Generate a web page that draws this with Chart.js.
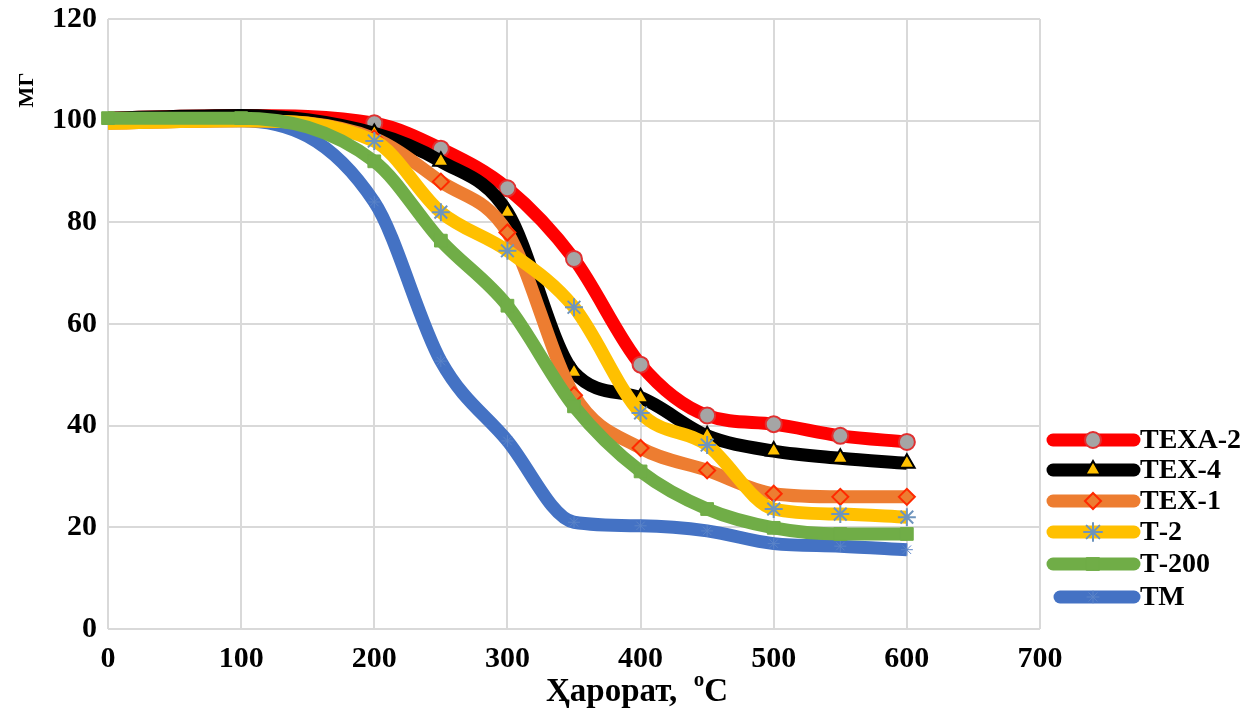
<!DOCTYPE html>
<html>
<head>
<meta charset="utf-8">
<script src="https://cdn.jsdelivr.net/npm/chart.js@4.4.0/dist/chart.umd.min.js"></script>
<style>
  body { margin: 0; background: #ffffff; }
  #wrap { width: 1245px; height: 711px; }
</style>
</head>
<body>
<div id="wrap"><canvas id="tga" width="1245" height="711"></canvas></div>
<script>
// температура, °С
const temps = [0, 100, 200, 250, 300, 350, 400, 450, 500, 550, 600];
const names = ['ТЕХА-2', 'ТЕХ-4', 'ТЕХ-1', 'Т-2', 'Т-200', 'ТМ'];

// масса, МГ
const texa2 = [100.5, 101, 99.5, 94.5, 86.7, 72.8, 52, 42, 40.3, 38, 36.8];
const tex4 = [100.5, 101, 97.5, 92, 82, 50.5, 45.5, 38, 35, 33.6, 32.6];
const tex1 = [99.5, 100, 96.5, 88, 78, 46, 35.6, 31.2, 26.6, 26, 26];
const t2 = [99.5, 100, 96, 82, 74.4, 63.3, 42.5, 36.2, 23.6, 22.6, 22];
const t200 = [100.5, 100.5, 92, 76.4, 63.6, 43.8, 31, 23.6, 19.9, 18.7, 18.7];
const tm = [100, 100, 84, 52.7, 37, 21, 20.3, 19.3, 16.8, 16.3, 15.6];

const xTicks = [0, 100, 200, 300, 400, 500, 600, 700];
const yTicks = [0, 20, 40, 60, 80, 100, 120];

const series = [texa2, tex4, tex1, t2, t200, tm];
const lineColors = ['#ff0000', '#000000', '#ed7d31', '#ffc000', '#70ad47', '#4472c4'];
const drawOrder = [6, 5, 4, 3, 1, 7];
const markers = [
    { style: 'circle', r: 8, fill: '#a5a5a5', border: '#e03030', bw: 2 },
    { style: 'triangle', r: 9, fill: '#ffc000', border: '#000000', bw: 2 },
    { style: 'rectRot', r: 8, fill: '#ed7d31', border: '#ff2a00', bw: 2 },
    { style: 'star', r: 9, fill: '#5b9bd5', border: '#6e94bd', bw: 2 },
    { style: 'rect', r: 9, fill: '#70ad47', border: '#70ad47', bw: 1 },
    { style: 'star', r: 6, fill: '#4472c4', border: '#5b84c8', bw: 1 }
];

const datasets = series.map((vals, i) => ({
    label: names[i],
    data: temps.map((t, k) => ({ x: t, y: vals[k] })),
    borderColor: lineColors[i],
    borderWidth: 13,
    cubicInterpolationMode: 'monotone',
    pointStyle: markers[i].style,
    pointRadius: temps.map(t => (t <= 100 && i !== 4) ? 0 : markers[i].r),
    legendRadius: markers[i].r,
    pointBackgroundColor: markers[i].fill,
    pointBorderColor: markers[i].border,
    pointBorderWidth: markers[i].bw,
    order: drawOrder[i],
    clip: false
}));

// подписи осей и легенда рисуются вручную
const extras = {
    id: 'extras',
    afterDraw(chart) {
        const ctx = chart.ctx;
        ctx.save();
        ctx.fillStyle = '#000';
        ctx.textBaseline = 'middle';

        // МГ
        ctx.save();
        ctx.translate(27, 90);
        ctx.rotate(-Math.PI / 2);
        ctx.textAlign = 'center';
        ctx.font = 'bold 22px "Liberation Serif"';
        ctx.fillText('МГ', 0, 0);
        ctx.restore();

        // Ҳарорат, °С
        ctx.textAlign = 'left';
        ctx.font = 'bold 33px "Liberation Serif"';
        const part1 = 'Ҳарорат,  ';
        let x = 546;
        ctx.fillText(part1, x, 692);
        x += ctx.measureText(part1).width;
        ctx.font = 'bold 21px "Liberation Serif"';
        ctx.fillText('o', x, 681);
        x += ctx.measureText('o').width;
        ctx.font = 'bold 33px "Liberation Serif"';
        ctx.fillText('С', x, 692);

        // легенда
        const ly = [440, 470, 501, 532, 564, 597];
        chart.data.datasets.forEach((ds, i) => {
            const y = ly[i];
            ctx.strokeStyle = ds.borderColor;
            ctx.lineWidth = 13;
            ctx.lineCap = 'round';
            ctx.beginPath();
            ctx.moveTo(i === 5 ? 1060 : 1053, y);
            ctx.lineTo(1134, y);
            ctx.stroke();
            ctx.fillStyle = ds.pointBackgroundColor;
            ctx.strokeStyle = ds.pointBorderColor;
            ctx.lineWidth = ds.pointBorderWidth;
            Chart.helpers.drawPoint(ctx, {
                pointStyle: ds.pointStyle,
                radius: ds.legendRadius,
                rotation: 0,
                borderWidth: ds.pointBorderWidth
            }, 1093, y);
            ctx.fillStyle = '#000';
            ctx.font = 'bold 28px "Liberation Serif"';
            ctx.textAlign = 'left';
            ctx.fillText(ds.label, 1140, y + 1);
        });
        ctx.restore();
    }
};

const ctx_tga = document.getElementById('tga');
if (ctx_tga) {
    new Chart(ctx_tga, {
        type: 'line',
        data: { datasets: datasets },
        options: {
            responsive: false,
            animation: false,
            layout: { padding: { top: 19, right: 205, left: 0, bottom: 0 } },
            plugins: {
                legend: { display: false },
                tooltip: { enabled: false }
            },
            scales: {
                x: {
                    type: 'linear',
                    min: 0,
                    max: 700,
                    afterBuildTicks: s => { s.ticks = xTicks.map(v => ({ value: v })); },
                    afterFit: s => { s.height = 82; s.paddingLeft = 0; s.paddingRight = 0; },
                    grid: { color: '#d9d9d9', lineWidth: 2, drawTicks: false },
                    border: { display: false },
                    ticks: {
                        color: '#000',
                        padding: 12,
                        maxRotation: 0,
                        font: { family: '"Liberation Serif"', size: 30, weight: 'bold' }
                    }
                },
                y: {
                    min: 0,
                    max: 120,
                    afterBuildTicks: s => { s.ticks = yTicks.map(v => ({ value: v })); },
                    afterFit: s => { s.width = 108; s.paddingTop = 0; s.paddingBottom = 0; },
                    grid: { color: '#d9d9d9', lineWidth: 2, drawTicks: false },
                    border: { display: false },
                    ticks: {
                        color: '#000',
                        padding: 11,
                        font: { family: '"Liberation Serif"', size: 30, weight: 'bold' }
                    }
                }
            }
        },
        plugins: [extras]
    });
}
</script>
</body>
</html>
